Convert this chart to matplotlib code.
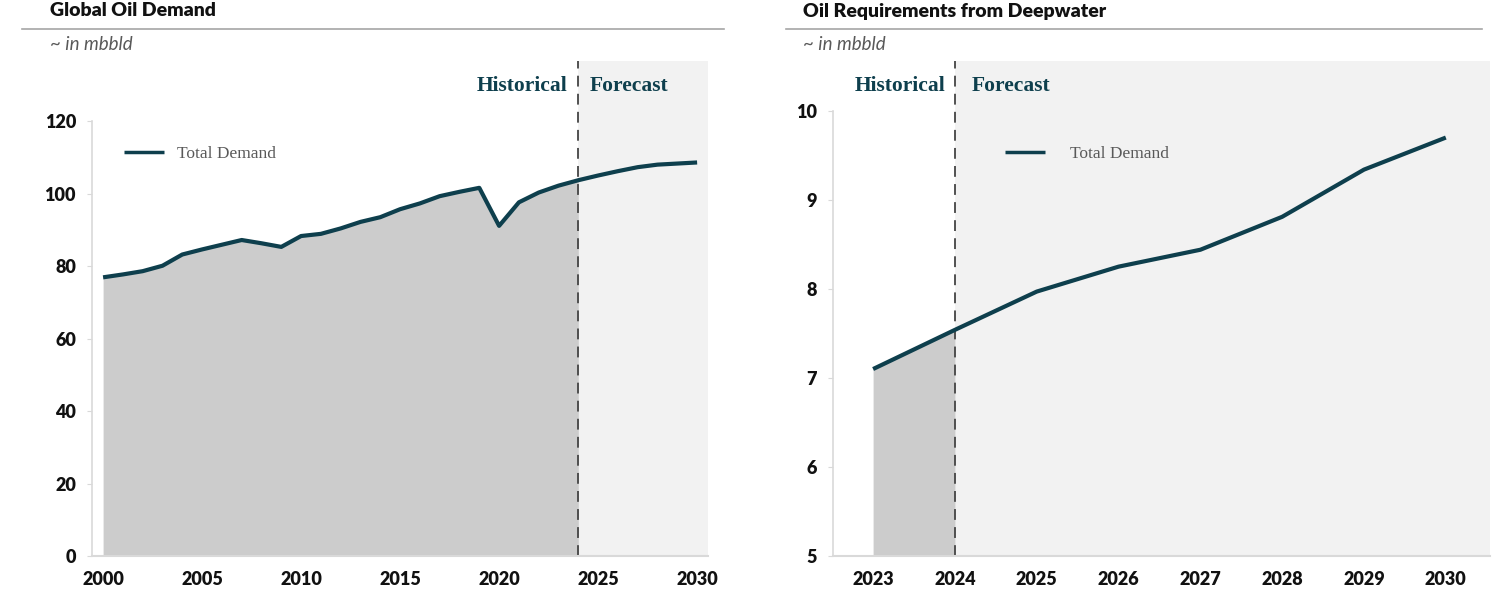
import matplotlib
matplotlib.use("Agg")
import matplotlib.pyplot as plt
from matplotlib.lines import Line2D

# ---------------- data ----------------
years_global = list(range(2000, 2031))
demand_global = [76.9, 77.7, 78.6, 80.1, 83.2, 84.6, 85.9, 87.2, 86.3, 85.3,
                 88.3, 88.9, 90.4, 92.2, 93.5, 95.7, 97.3, 99.3, 100.5, 101.6,
                 91.1, 97.6, 100.3, 102.2, 103.7, 105.0, 106.2, 107.3, 108.0,
                 108.3, 108.6]
years_deep = list(range(2023, 2031))
demand_deep = [7.10, 7.54, 7.97, 8.25, 8.44, 8.81, 9.34, 9.70]
split_year = 2024

global_yticks = [0, 20, 40, 60, 80, 100, 120]
global_xticks = [2000, 2005, 2010, 2015, 2020, 2025, 2030]
deep_yticks = [5, 6, 7, 8, 9, 10]
deep_xticks = years_deep

titles = ["Global Oil Demand", "Oil Requirements from Deepwater"]
subtitle = "~ in mbbld"
legend_label = "Total Demand"

# ---------------- style ----------------
LINE = "#0e3f4d"
HIST_FILL = "#cccccc"
FC_FILL = "#f2f2f2"
SPINE = "#d9d9d9"
SANS = ["Lato", "DejaVu Sans"]
SERIF = ["Liberation Serif", "DejaVu Serif"]

W, H = 1500, 600
fig = plt.figure(figsize=(15, 6), dpi=100)
fig.patch.set_facecolor("white")


def px_axes(x0, y0, x1, y1):
    return fig.add_axes([x0 / W, 1 - y1 / H, (x1 - x0) / W, (y1 - y0) / H])


def header(x_text, x0, x1, title):
    fig.text(x_text / W, 1 - 11 / H, title, fontsize=14, fontweight="heavy",
             family=SANS, color="#111111", va="center", ha="left")
    fig.add_artist(Line2D([x0 / W, x1 / W], [1 - 29 / H, 1 - 29 / H],
                          color="#a6a6a6", lw=1.2, transform=fig.transFigure))
    fig.text(x_text / W, 1 - 45 / H, subtitle, fontsize=13.5, style="italic",
             family=SANS, color="#595959", va="center", ha="left")


def style_axes(ax, ylo, yhi, xticks, yticks):
    for s in ["top", "right"]:
        ax.spines[s].set_visible(False)
    ax.spines["left"].set_color(SPINE)
    ax.spines["bottom"].set_color(SPINE)
    ax.spines["left"].set_linewidth(1.2)
    ax.spines["bottom"].set_linewidth(1.5)
    ax.spines["left"].set_bounds(ylo, yhi)
    ax.set_xticks(xticks)
    ax.set_yticks(yticks)
    ax.tick_params(axis="y", length=3.5, color=SPINE, pad=8)
    ax.tick_params(axis="x", length=0, pad=11)
    for lab in ax.get_xticklabels() + ax.get_yticklabels():
        lab.set_fontfamily(SANS)
        lab.set_fontweight("heavy")
        lab.set_fontsize(13)
        lab.set_color("#111111")
    ax.set_facecolor("none")


def marks(ax, years, vals, ybase, xr, hist_x, fc_x, leg_anchor, textpad):
    ax.axvspan(split_year, xr, color=FC_FILL, zorder=0, lw=0)
    hy = [y for y in years if y <= split_year]
    hv = vals[:len(hy)]
    ax.fill_between(hy, ybase, hv, color=HIST_FILL, lw=0, zorder=1)
    ax.plot(years, vals, color=LINE, lw=3, zorder=3, label=legend_label,
            solid_capstyle="butt")
    ax.axvline(split_year, color="#444444", lw=1.3, dashes=(6, 4), zorder=2)
    ax.text(hist_x, 0.949, "Historical", transform=ax.get_xaxis_transform(),
            ha="right", va="center", fontsize=15.5, fontweight="bold",
            family=SERIF, color=LINE)
    ax.text(fc_x, 0.949, "Forecast", transform=ax.get_xaxis_transform(),
            ha="left", va="center", fontsize=15.5, fontweight="bold",
            family=SERIF, color=LINE)
    leg = ax.legend(loc="center left", bbox_to_anchor=leg_anchor, frameon=False,
                    borderpad=0, borderaxespad=0, handlelength=2.3,
                    handletextpad=textpad,
                    prop={"family": SERIF, "size": 12.5})
    for t in leg.get_texts():
        t.set_color("#595959")
    for h in leg.legend_handles:
        h.set_linewidth(2.5)


# ---------------- left panel ----------------
header(50, 22, 724, titles[0])
ax1 = px_axes(92, 61, 708, 556)
xl1 = (1999.44, 2030.55)
ax1.set_xlim(*xl1)
ax1.set_ylim(0, 136.6)
marks(ax1, years_global, demand_global, 0, xl1[1], 2023.45, 2024.6,
      (0.052, 0.812), 0.75)
style_axes(ax1, 0, 120, global_xticks, global_yticks)

# ---------------- right panel ----------------
header(803, 786, 1482, titles[1])
ax2 = px_axes(833, 61, 1490, 556)
xl2 = (2022.51, 2030.54)
ax2.set_xlim(*xl2)
ax2.set_ylim(5, 10.56)
marks(ax2, years_deep, demand_deep, 5, xl2[1], 2023.88, 2024.2,
      (0.262, 0.812), 1.45)
style_axes(ax2, 5, 10, deep_xticks, deep_yticks)

fig.savefig("out.png", dpi=100, facecolor="white")
